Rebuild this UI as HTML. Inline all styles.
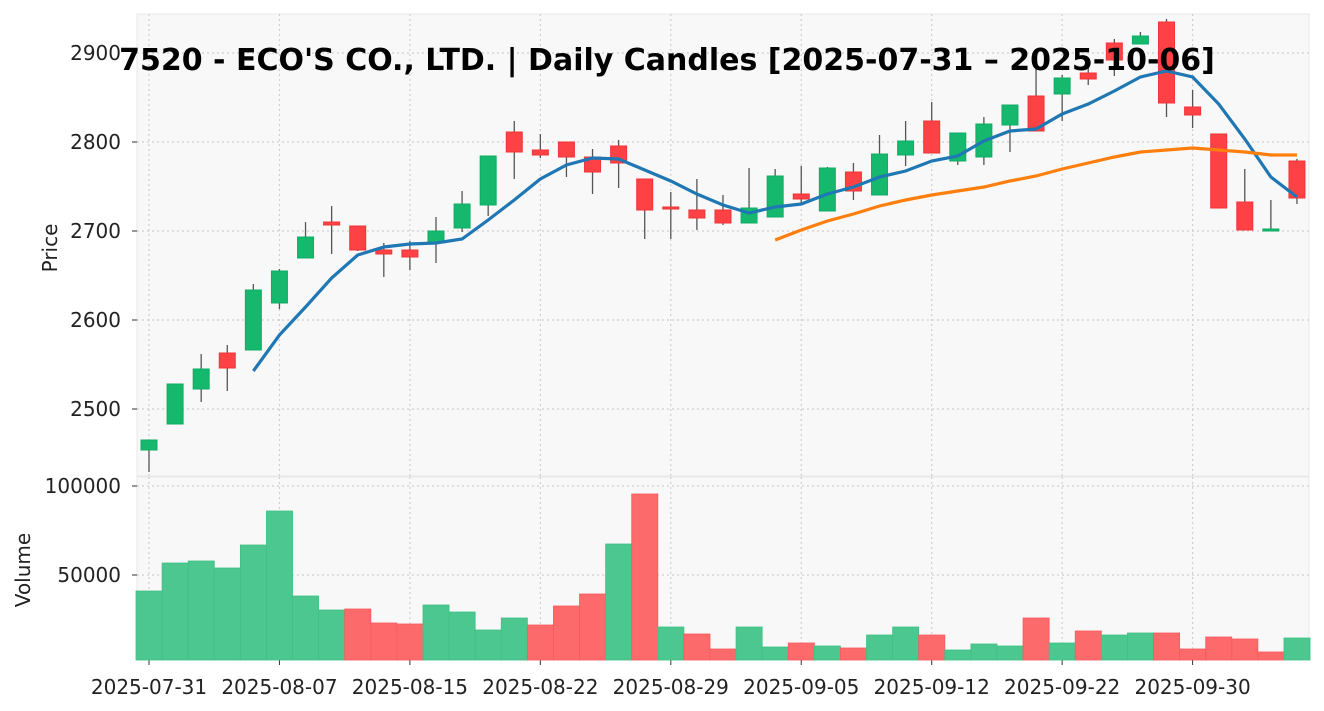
<!DOCTYPE html>
<html><head><meta charset="utf-8"><style>body{margin:0;background:#fff}svg{display:block;font-family:"DejaVu Sans","Liberation Sans",sans-serif}</style></head>
<body>
<svg id="s" width="1324" height="711" xmlns="http://www.w3.org/2000/svg"></svg>
<script>
const S=document.getElementById('s');let h='';
h+='<rect x="137" y="14" width="1172" height="462" fill="#f8f8f8" stroke="#e8e8e8"/>';
h+='<rect x="137" y="477" width="1172" height="183" fill="#f8f8f8" stroke="#e8e8e8"/>';
const X=i=>149+26.09*i;
const g='stroke="#cfcfcf" stroke-width="1.2" stroke-dasharray="2,3"';
[53,142,231,320,409].forEach(y=>h+=`<line x1="137" x2="1309" y1="${y}" y2="${y}" ${g}/>`);
[486,575].forEach(y=>h+=`<line x1="137" x2="1309" y1="${y}" y2="${y}" ${g}/>`);
const xl=[[0,'2025-07-31'],[5,'2025-08-07'],[10,'2025-08-15'],[15,'2025-08-22'],[20,'2025-08-29'],[25,'2025-09-05'],[30,'2025-09-12'],[35,'2025-09-22'],[40,'2025-09-30']];
xl.forEach(([i,t])=>{const x=X(i);h+=`<line x1="${x}" x2="${x}" y1="14" y2="476" ${g}/><line x1="${x}" x2="${x}" y1="477" y2="660" ${g}/><line x1="${x}" x2="${x}" y1="660" y2="665" stroke="#333"/><text x="${x}" y="694" font-size="20" text-anchor="middle" fill="#222">${t}</text>`});
[[53,'2900'],[142,'2800'],[231,'2700'],[320,'2600'],[409,'2500'],[486,'100000'],[575,'50000']].forEach(([y,t])=>h+=`<line x1="132" x2="137" y1="${y}" y2="${y}" stroke="#333"/><text x="121" y="${y+7}" font-size="20" text-anchor="end" fill="#222">${t}</text>`);
h+='<text transform="translate(57,248) rotate(-90)" font-size="20" text-anchor="middle" fill="#222">Price</text>';
h+='<text transform="translate(30,570) rotate(-90)" font-size="20" text-anchor="middle" fill="#222">Volume</text>';
const vol=[[591,'g'],[563,'g'],[561,'g'],[568,'g'],[545,'g'],[511,'g'],[596,'g'],[610,'g'],[609,'r'],[623,'r'],[624,'r'],[605,'g'],[612,'g'],[630,'g'],[618,'g'],[625,'r'],[606,'r'],[594,'r'],[544,'g'],[494,'r'],[627,'g'],[634,'r'],[649,'r'],[627,'g'],[647,'g'],[643,'r'],[646,'g'],[648,'r'],[635,'g'],[627,'g'],[635,'r'],[650,'g'],[644,'g'],[646,'g'],[618,'r'],[643,'g'],[631,'r'],[635,'g'],[633,'g'],[633,'r'],[649,'r'],[637,'r'],[639,'r'],[652,'r'],[638,'g']];
vol.forEach(([y,c],i)=>h+=`<rect x="${X(i)-13}" y="${y}" width="26.1" height="${660-y}" fill="${c=='g'?'#4cc78f':'#fd6a6c'}" stroke="${c=='g'?'#3fc184':'#f85a5c'}" stroke-width="0.8"/>`);
const C=[[440,450,440,472,'g'],[384,424,384,424,'g'],[369,389,354,402,'g'],[353,368,345,391,'r'],[290,350,284,350,'g'],[271,303,269,309,'g'],[237,258,222,258,'g'],[222,225,206,254,'r'],[226,250,226,251,'r'],[250,254,243,277,'r'],[250,257,241,270,'r'],[231,243,217,263,'g'],[204,228,191,232,'g'],[156,205,156,216,'g'],[132,152,121,179,'r'],[150,155,134,158,'r'],[142,157,142,177,'r'],[157,172,149,194,'r'],[146,163,140,188,'r'],[179,210,179,239,'r'],[207,209,192,239,'r'],[210,218,179,230,'r'],[210,223,195,225,'r'],[208,223,168,223,'g'],[176,217,169,217,'g'],[194,199,166,205,'r'],[168,211,167,211,'g'],[172,191,163,200,'r'],[154,195,135,195,'g'],[141,155,121,166,'g'],[121,153,102,153,'r'],[133,161,133,165,'g'],[124,157,117,165,'g'],[105,125,105,152,'g'],[96,131,67,131,'r'],[78,94,75,121,'g'],[73,79,65,85,'r'],[43,60,39,76,'r'],[36,44,32,44,'g'],[22,103,19,117,'r'],[107,115,90,128,'r'],[134,208,134,208,'r'],[202,230,169,230,'r'],[229,231,200,231,'g'],[161,198,159,204,'r']];
C.forEach(([t,b,wt,wb,c],i)=>{const x=X(i);const f=c=='g'?'#16b86e':'#fd4144',st=c=='g'?'#10ad64':'#f03538';
h+=`<line x1="${x}" x2="${x}" y1="${wt}" y2="${wb}" stroke="#555" stroke-width="1.3"/><rect x="${x-8}" y="${t}" width="16" height="${Math.max(b-t,2)}" fill="${f}" stroke="${st}"/>`});
const m5=[371,335,307,278,255,247,244,243,239,220,200,179,165,158,159,170,181,194,205,213,207,204,194,187,177,171,161,156,141,131,129,114,104,91,77,71,77,104,139,177,197];
h+=`<polyline fill="none" stroke="#1f77b4" stroke-width="3.2" points="${m5.map((y,k)=>X(k+4)+','+y).join(' ')}"/>`;
const m20=[240,230,221,214,206,200,195,191,187,181,176,169,163,157,152,150,148,150,152,155,155];
h+=`<polyline fill="none" stroke="#ff7f0e" stroke-width="3.2" points="${m20.map((y,k)=>X(k+24)+','+y).join(' ')}"/>`;
h+='<text x="667" y="70" font-size="30" font-weight="bold" text-anchor="middle" fill="#000">7520 - ECO\'S CO., LTD. | Daily Candles [2025-07-31 – 2025-10-06]</text>';
S.innerHTML=h;
</script>
</body></html>
